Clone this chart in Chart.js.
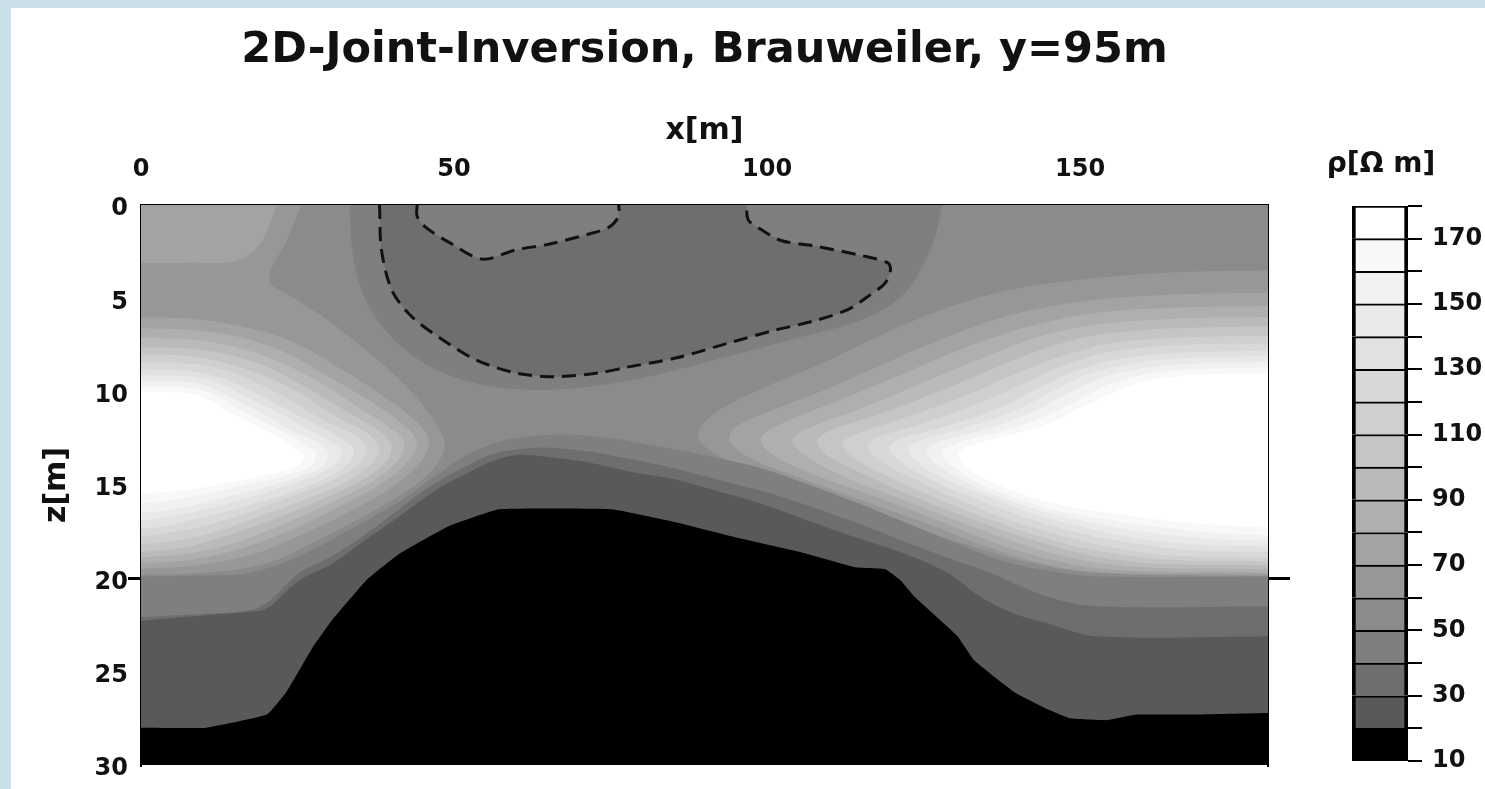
<!DOCTYPE html>
<html lang="de">
<head>
<meta charset="utf-8">
<title>2D-Joint-Inversion, Brauweiler, y=95m</title>
<script src="https://cdn.jsdelivr.net/npm/chart.js@4.4.1/dist/chart.umd.min.js"></script>
<style>
  html, body { margin: 0; padding: 0; width: 1485px; height: 789px; overflow: hidden; background: #cadfea; }
  #sheet { position: absolute; left: 11px; top: 8px; right: 0; bottom: 0; background: #ffffff; }
  canvas { position: absolute; top: 0; }
  #section { left: 0; }
  #scale { left: 1277px; }
</style>
</head>
<body>
<div id="sheet"></div>
<canvas id="section" width="1485" height="789"></canvas>
<canvas id="scale" width="208" height="789"></canvas>
<script>
// ---------- axes ----------
const xTicks = [0, 50, 100, 150];
const zTicks = [0, 5, 10, 15, 20, 25, 30];
const zMarks = [20];

// ---------- resistivity classes (Ohm m) ----------
const rhoLevels = [10, 20, 30, 40, 50, 60, 70, 80, 90, 100, 110, 120, 130, 140, 150, 160, 170, 180];
const rhoLabels = [10, 30, 50, 70, 90, 110, 130, 150, 170];
const rhoGreys = ['#000000', '#595959', '#6e6e6e', '#7f7f7f', '#8b8b8b', '#979797', '#a3a3a3', '#afafaf',
                  '#bababa', '#c5c5c5', '#cfcfcf', '#d8d8d8', '#e1e1e1', '#e9e9e9', '#f1f1f1', '#f8f8f8', '#ffffff'];

// ---------- contour regions, [x (m), z (m)] ----------
// whole section: 50-60 class
const field50 = [[-2, -2], [182, -2], [182, 32], [-2, 32]];

// western high-resistivity body (value above the level)
const corner70 = [[-1, -1], [21, -1], [20, 1.5], [16, 2.9], [8, 3.1], [-1, 3.1]];
const west60 = [[-1, -1], [25.3, -1], [23.8, 1.5], [20.5, 4.0], [24, 4.9], [30, 6.2], [36, 7.8], [42, 9.6], [46.5, 11.4], [48.5, 12.8], [47, 14.0], [43, 15.2], [36, 16.6], [28, 18.0], [20, 19.2], [10, 19.7], [-1, 19.8]];
const west70 = [[-1, 6.0], [8, 6.1], [16, 6.5], [24, 7.3], [32, 8.8], [39, 10.3], [44, 11.6], [46, 12.6], [45, 13.6], [41, 14.9], [34, 16.3], [26, 17.6], [18, 18.7], [9, 19.3], [-1, 19.5]];
const west80 = [[-1, 6.6], [8, 6.7], [16, 7.1], [23, 7.9], [30, 9.2], [37, 10.6], [42, 11.8], [44, 12.7], [43, 13.6], [39, 14.8], [32, 16.1], [24, 17.4], [16, 18.4], [8, 19.0], [-1, 19.2]];
const west90 = [[-1, 7.1], [8, 7.2], [15, 7.6], [22, 8.4], [29, 9.6], [35, 10.9], [40, 12.0], [42, 12.8], [41, 13.7], [37, 14.8], [30, 16.0], [22, 17.2], [14, 18.2], [7, 18.7], [-1, 18.9]];
const west100 = [[-1, 7.6], [8, 7.7], [15, 8.1], [21, 8.8], [27, 9.9], [33, 11.1], [38, 12.1], [40, 12.9], [39, 13.8], [35, 14.8], [28, 15.9], [20, 17.0], [12, 17.9], [6, 18.4], [-1, 18.6]];
const west110 = [[-1, 8.0], [8, 8.1], [14, 8.5], [20, 9.2], [26, 10.2], [31, 11.3], [36, 12.2], [38, 13.0], [37, 13.8], [33, 14.8], [26, 15.8], [18, 16.8], [11, 17.6], [5, 18.0], [-1, 18.2]];
const west120 = [[-1, 8.4], [8, 8.5], [14, 8.9], [19, 9.6], [24, 10.5], [29, 11.5], [34, 12.3], [36, 13.0], [35, 13.8], [31, 14.7], [24, 15.6], [17, 16.5], [10, 17.2], [4, 17.6], [-1, 17.8]];
const west130 = [[-1, 8.8], [8, 8.9], [13, 9.3], [18, 10.0], [23, 10.9], [28, 11.8], [32, 12.5], [34, 13.1], [33, 13.9], [29, 14.7], [23, 15.5], [16, 16.2], [9, 16.8], [4, 17.2], [-1, 17.4]];
const west140 = [[-1, 9.1], [8, 9.2], [13, 9.6], [17, 10.3], [22, 11.1], [26, 11.9], [30, 12.6], [32, 13.2], [31, 13.9], [27, 14.6], [21, 15.3], [15, 15.9], [8, 16.5], [3, 16.8], [-1, 17.0]];
const west150 = [[-1, 9.4], [8, 9.5], [12, 9.9], [16, 10.6], [20, 11.3], [24, 12.1], [28, 12.7], [30, 13.3], [29, 14.0], [25, 14.6], [20, 15.1], [14, 15.6], [8, 16.1], [3, 16.4], [-1, 16.5]];
const west160 = [[-1, 9.7], [8, 9.8], [12, 10.2], [15, 10.8], [19, 11.5], [23, 12.2], [26, 12.8], [28, 13.3], [27, 14.0], [23, 14.5], [18, 14.9], [13, 15.3], [7, 15.7], [3, 15.9], [-1, 16.0]];
const west170 = [[-1, 10.0], [8, 10.1], [11, 10.5], [14, 11.1], [18, 11.7], [21, 12.3], [24, 12.9], [26, 13.4], [25, 14.0], [21, 14.4], [17, 14.7], [12, 15.0], [7, 15.3], [3, 15.4], [-1, 15.5]];

// eastern high-resistivity body
const east60 = [[181, 3.5], [165, 3.6], [150, 4.0], [138, 4.6], [128, 5.6], [118, 7.0], [108, 8.6], [98, 10.0], [91, 11.3], [89, 12.4], [92, 13.4], [100, 14.5], [110, 15.7], [120, 16.9], [130, 18.0], [140, 19.0], [152, 19.7], [181, 19.9]];
const east70 = [[181, 4.7], [165, 4.8], [152, 5.1], [140, 5.8], [130, 6.9], [120, 8.3], [110, 9.8], [100, 11.1], [95, 11.9], [94, 12.6], [97, 13.5], [105, 14.6], [115, 15.8], [125, 17.0], [135, 18.3], [145, 19.3], [155, 19.7], [181, 19.8]];
const east80 = [[181, 5.4], [165, 5.5], [152, 5.8], [142, 6.5], [132, 7.6], [122, 9.0], [112, 10.4], [103, 11.6], [99, 12.5], [101, 13.4], [108, 14.5], [118, 15.7], [128, 17.0], [138, 18.3], [148, 19.2], [158, 19.6], [181, 19.7]];
const east90 = [[181, 6.0], [165, 6.1], [153, 6.4], [144, 7.0], [135, 8.1], [125, 9.5], [115, 10.9], [107, 11.9], [104, 12.6], [106, 13.4], [112, 14.5], [121, 15.7], [131, 17.0], [141, 18.2], [150, 19.0], [160, 19.4], [181, 19.5]];
const east100 = [[181, 6.5], [165, 6.6], [154, 6.9], [146, 7.5], [138, 8.5], [128, 9.9], [118, 11.2], [110, 12.1], [108, 12.7], [110, 13.5], [116, 14.5], [124, 15.7], [134, 17.0], [143, 18.0], [152, 18.8], [162, 19.2], [181, 19.3]];
const east110 = [[181, 7.0], [166, 7.1], [155, 7.4], [148, 8.0], [140, 9.0], [131, 10.3], [121, 11.5], [114, 12.3], [112, 12.8], [114, 13.6], [119, 14.5], [127, 15.7], [136, 16.9], [145, 17.9], [154, 18.6], [164, 19.0], [181, 19.1]];
const east120 = [[181, 7.4], [166, 7.5], [156, 7.8], [149, 8.4], [142, 9.4], [134, 10.6], [125, 11.7], [118, 12.4], [116, 12.9], [118, 13.7], [123, 14.6], [130, 15.7], [138, 16.8], [147, 17.7], [156, 18.4], [166, 18.8], [181, 18.9]];
const east130 = [[181, 7.8], [167, 7.9], [157, 8.2], [150, 8.8], [144, 9.7], [137, 10.9], [128, 11.9], [121.5, 12.5], [119.5, 13.0], [121.5, 13.8], [126, 14.7], [133, 15.7], [141, 16.7], [149, 17.5], [158, 18.1], [168, 18.5], [181, 18.6]];
const east140 = [[181, 8.1], [167, 8.2], [158, 8.5], [151, 9.1], [145.5, 10.0], [139, 11.1], [131, 12.0], [124.5, 12.6], [122.5, 13.1], [124.5, 13.9], [129, 14.8], [136, 15.7], [143, 16.6], [151, 17.3], [160, 17.9], [170, 18.2], [181, 18.3]];
const east150 = [[181, 8.4], [168, 8.5], [159, 8.8], [152.5, 9.4], [147, 10.3], [141, 11.3], [134, 12.1], [127.5, 12.7], [125.5, 13.2], [127.5, 14.0], [132, 14.9], [138.5, 15.8], [145, 16.5], [153, 17.1], [162, 17.6], [172, 17.9], [181, 18.0]];
const east160 = [[181, 8.7], [168, 8.8], [160, 9.1], [154, 9.7], [149, 10.6], [143, 11.5], [136.5, 12.2], [130, 12.8], [128, 13.3], [130, 14.1], [134.5, 15.0], [140.5, 15.8], [147, 16.4], [155, 16.9], [164, 17.3], [173, 17.6], [181, 17.7]];
const east170 = [[181, 9.0], [169, 9.1], [161, 9.4], [155.5, 10.0], [150.5, 10.8], [145, 11.7], [139, 12.3], [132.5, 12.9], [130.5, 13.4], [132.5, 14.2], [137, 15.0], [142.5, 15.7], [149, 16.2], [157, 16.6], [166, 17.0], [175, 17.2], [181, 17.3]];

// near-surface low-resistivity body (value below the level)
const cap50 = [[33.3, -1], [33.5, 1.5], [34.3, 3.5], [36, 5.2], [38.5, 6.5], [42, 7.7], [47, 8.8], [54, 9.6], [62, 9.9], [70, 9.8], [78, 9.4], [86, 8.8], [95, 8.0], [104, 7.2], [112, 6.5], [118, 5.7], [122, 4.7], [125, 3.2], [127, 1.5], [128.5, -1]];
const dash40Outer = [[38.1, 0], [38.4, 2.4], [40.1, 4.6], [43.3, 6.0], [48.1, 7.2], [53.5, 8.3], [59.9, 9.0], [66.2, 9.2], [73.1, 9.0], [77.4, 8.7], [85.4, 8.2], [93.8, 7.4], [101.3, 6.7], [107.6, 6.2], [112.9, 5.6], [116.1, 4.9], [118.8, 4.2], [119.7, 3.5], [119.3, 3.1], [115.0, 2.7], [107.6, 2.2], [102.2, 1.9], [99.0, 1.3], [97.0, 0.8], [96.7, 0]];
const dash40Inner = [[44.1, 0], [44.1, 0.6], [45.5, 1.2], [49.2, 2.0], [54.5, 2.9], [59.9, 2.4], [65.1, 2.1], [71.0, 1.6], [74.7, 1.2], [76.3, 0.6], [76.3, 0]];

// deep low-resistivity layers (value below the level)
const base50 = [[-1, 19.9], [10, 19.85], [17.4, 19.7], [25.3, 18.8], [33.3, 17.4], [41.2, 15.9], [47, 14.5], [52, 13.4], [57, 12.7], [62, 12.4], [68, 12.3], [75, 12.5], [82, 12.9], [90, 13.4], [98, 14.0], [106, 14.9], [114, 15.9], [122, 17.0], [130, 18.1], [137, 19.0], [145, 19.6], [153, 19.9], [182, 19.9], [195, 19.9], [195, 32], [-1, 32]];
const base40 = [[-1, 22.1], [10, 21.9], [17.4, 21.7], [20.5, 21.2], [25.3, 19.7], [30.6, 18.8], [36, 17.6], [41.2, 16.3], [46.5, 15.0], [51.9, 14.0], [55.6, 13.4], [60, 13.1], [65, 13.0], [71.5, 13.2], [78, 13.6], [85, 14.1], [92, 14.7], [99, 15.3], [106.5, 16.1], [114, 17.0], [121, 17.9], [128.8, 18.9], [134, 19.5], [137, 19.9], [145, 21.0], [152.7, 21.5], [182, 21.5], [195, 21.5], [195, 32], [-1, 32]];
const base30 = [[-1, 22.3], [9.4, 22.0], [16.9, 21.8], [20.1, 21.6], [25.3, 20.1], [30.6, 19.2], [36.0, 17.9], [41.2, 16.7], [46.5, 15.4], [51.9, 14.4], [55.6, 13.8], [59.9, 13.4], [65.1, 13.5], [71.5, 13.8], [78.3, 14.3], [85.4, 14.7], [91.7, 15.3], [99.0, 16.0], [106.5, 16.9], [114.0, 17.8], [121.3, 18.6], [128.8, 19.7], [134.1, 21.0], [139.5, 21.9], [144.7, 22.4], [152.7, 23.1], [182, 23.1], [195, 23.1], [195, 32], [-1, 32]];
const base20 = [[-1, 28.0], [10.5, 28.0], [20.1, 27.3], [23.2, 26.1], [27.4, 23.7], [30.6, 22.2], [36.0, 20.1], [41.2, 18.7], [49.2, 17.2], [57.2, 16.3], [75.2, 16.3], [85.4, 17.0], [94.9, 17.8], [105.4, 18.6], [114.0, 19.4], [118.8, 19.5], [121.3, 20.1], [123.6, 21.0], [130.4, 23.1], [133.1, 24.4], [139.5, 26.1], [144.7, 27.0], [148.4, 27.5], [154.3, 27.6], [159.1, 27.3], [167.5, 27.3], [182, 27.2], [195, 27.2], [195, 32], [-1, 32]];

// 30-40 region bounded by the dashed contour and the surface
const cap40 = dash40Outer.concat([[96.7, -1], [76.3, -1]], dash40Inner.slice().reverse(), [[44.1, -1], [38.1, -1]]);

// ---------- painting order: each class drawn over the one below ----------
const regions = [
  { pts: field50, rho: 50 },
  { pts: west60, rho: 60 }, { pts: east60, rho: 60 },
  { pts: corner70, rho: 70 }, { pts: west70, rho: 70 }, { pts: east70, rho: 70 },
  { pts: west80, rho: 80 }, { pts: east80, rho: 80 },
  { pts: west90, rho: 90 }, { pts: east90, rho: 90 },
  { pts: west100, rho: 100 }, { pts: east100, rho: 100 },
  { pts: west110, rho: 110 }, { pts: east110, rho: 110 },
  { pts: west120, rho: 120 }, { pts: east120, rho: 120 },
  { pts: west130, rho: 130 }, { pts: east130, rho: 130 },
  { pts: west140, rho: 140 }, { pts: east140, rho: 140 },
  { pts: west150, rho: 150 }, { pts: east150, rho: 150 },
  { pts: west160, rho: 160 }, { pts: east160, rho: 160 },
  { pts: west170, rho: 170 }, { pts: east170, rho: 170 },
  { pts: cap50, rho: 40 }, { pts: base50, rho: 40 },
  { pts: cap40, rho: 30, tension: 0.25 }, { pts: base40, rho: 30 },
  { pts: base30, rho: 20 },
  { pts: base20, rho: 10, tension: 0.1 }
];
const dashedLines = [dash40Outer, dash40Inner];

const FONT = "'DejaVu Sans', 'Liberation Sans', sans-serif";
Chart.defaults.font.family = FONT;
Chart.defaults.font.weight = 'bold';
Chart.defaults.color = '#111111';
Chart.defaults.animation = false;

const bandDatasets = regions.map((r, i) => ({
  data: r.pts,
  showLine: true,
  fill: 'shape',
  backgroundColor: rhoGreys[rhoLevels.indexOf(r.rho)],
  borderWidth: 0,
  pointRadius: 0,
  tension: r.tension !== undefined ? r.tension : 0.35,
  order: 1000 - i
}));
const dashDatasets = dashedLines.map((pts) => ({
  data: pts,
  showLine: true,
  fill: false,
  borderColor: '#111111',
  borderWidth: 3,
  borderDash: [14, 8],
  pointRadius: 0,
  tension: 0.3,
  order: 0
}));

new Chart(document.getElementById('section'), {
  type: 'scatter',
  data: { datasets: bandDatasets.concat(dashDatasets) },
  options: {
    responsive: false,
    events: [],
    layout: { padding: { left: 0, right: 195, top: 0, bottom: 24 } },
    plugins: {
      legend: { display: false },
      tooltip: { enabled: false },
      title: {
        display: true,
        text: '2D-Joint-Inversion, Brauweiler, y=95m',
        fullSize: false,
        color: '#111111',
        font: { size: 43, weight: 'bold' },
        padding: { top: 25, bottom: 0 }
      }
    },
    scales: {
      x: {
        type: 'linear', position: 'top', min: 0, max: 180,
        afterBuildTicks: (s) => { s.ticks = xTicks.map((v) => ({ value: v })); },
        afterFit: (s) => { s.height = 128.4; },
        grid: { display: false },
        border: { display: true, color: '#000000', width: 3 },
        ticks: { font: { size: 24 }, padding: 13, autoSkip: false, maxRotation: 0 },
        title: { display: true, text: 'x[m]', font: { size: 30 }, padding: { top: 37, bottom: 0 } }
      },
      y: {
        type: 'linear', position: 'left', reverse: true, min: 0, max: 30,
        afterBuildTicks: (s) => { s.ticks = zTicks.map((v) => ({ value: v })); },
        afterFit: (s) => { s.width = 141; },
        grid: {
          display: true, drawOnChartArea: false, drawTicks: true, tickLength: 13, lineWidth: 3,
          color: (c) => (c.tick && zMarks.includes(c.tick.value) ? '#000000' : 'rgba(0,0,0,0)')
        },
        border: { display: true, color: '#000000', width: 2 },
        ticks: { font: { size: 24 }, padding: 0, labelOffset: 4, autoSkip: false },
        title: { display: true, text: 'z[m]', font: { size: 30 }, padding: { top: 39, bottom: 0 } }
      },
      yR: {
        type: 'linear', position: 'right', reverse: true, min: 0, max: 30,
        afterBuildTicks: (s) => { s.ticks = zMarks.map((v) => ({ value: v })); },
        afterFit: (s) => { s.width = 22; },
        grid: { display: true, drawOnChartArea: false, drawTicks: true, tickLength: 22, lineWidth: 3, color: '#000000' },
        border: { display: true, color: '#000000', width: 2 },
        ticks: { display: false }
      }
    }
  }
});

// ---------- colour scale ----------
new Chart(document.getElementById('scale'), {
  type: 'bar',
  data: {
    labels: [''],
    datasets: rhoGreys.map((c, i) => ({
      data: [[rhoLevels[i], rhoLevels[i + 1]]],
      yAxisID: 'y',
      backgroundColor: c,
      borderColor: '#000000',
      borderWidth: { top: 2, bottom: i === 0 ? 2 : 0, left: 4, right: 4 },
      borderSkipped: false,
      grouped: false,
      barPercentage: 1,
      categoryPercentage: 1
    }))
  },
  options: {
    responsive: false,
    events: [],
    layout: { padding: { left: 0, right: 0, top: 0, bottom: 28 } },
    plugins: {
      legend: { display: false },
      tooltip: { enabled: false },
      title: {
        display: true,
        text: 'ρ[Ω m]',
        color: '#111111',
        font: { size: 28, weight: 'bold' },
        padding: { top: 148, bottom: 24.4 }
      }
    },
    scales: {
      x: { display: false },
      y: {
        type: 'linear', position: 'right', min: 10, max: 180,
        afterBuildTicks: (s) => { s.ticks = rhoLevels.map((v) => ({ value: v })); },
        afterFit: (s) => { s.width = 77; },
        grid: { display: true, drawOnChartArea: false, drawTicks: true, tickLength: 14, lineWidth: 2, color: '#000000' },
        border: { display: false },
        ticks: {
          font: { size: 24 }, padding: 10, autoSkip: false,
          callback: (v) => (rhoLabels.includes(v) ? String(v) : '')
        }
      },
      yL: {
        type: 'linear', position: 'left',
        afterFit: (s) => { s.width = 75; },
        grid: { display: false },
        border: { display: false },
        ticks: { display: false }
      }
    }
  }
});
</script>
</body>
</html>
